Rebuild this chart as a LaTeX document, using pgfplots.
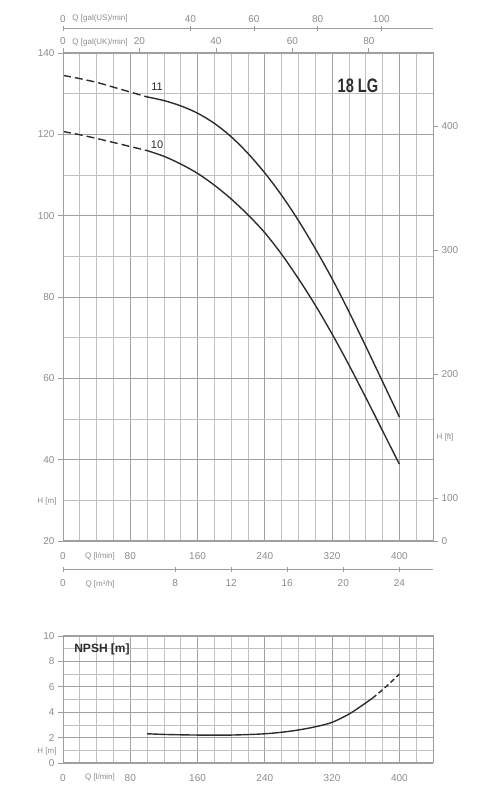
\documentclass[border=0pt]{standalone}
\usepackage{fontspec}
\setmainfont{Liberation Sans}
\usepackage{graphicx}
\usepackage{pgfplots}
\pgfplotsset{compat=1.18}
\definecolor{gridmin}{RGB}{192,192,192}
\definecolor{gridmaj}{RGB}{160,160,160}
\definecolor{axcol}{RGB}{158,158,158}
\definecolor{labcol}{RGB}{140,140,140}
\definecolor{curvecol}{RGB}{45,45,45}
\pgfplotsset{
  base/.style={scale only axis, clip=false,
    /pgf/number format/assume math mode=true,
    ticklabel style={font=\fontsize{10}{12}\selectfont, text=labcol},
    axis line style={draw=axcol, line width=1pt},
    tick style={draw=axcol, line width=0.8pt},
    major tick length=5pt, minor tick length=0pt, tick align=outside},
}
\tikzset{qlab/.style={font=\fontsize{8}{9}\selectfont, text=labcol, inner sep=0pt}}
\begin{document}
\begin{tikzpicture}
\useasboundingbox (0pt,0pt) rectangle (500pt,800pt);
% ---------- main H-Q chart ----------
\begin{axis}[base, width=370pt, height=488pt, at={(63pt,259pt)}, anchor=south west,
  xmin=0, xmax=440, ymin=20, ymax=140,
  xtick={0,80,...,400},
  minor xtick={20,40,60,100,120,140,180,200,220,260,280,300,340,360,380,420},
  ytick={20,40,...,140}, minor ytick={30,50,...,130},
  grid=both,
  major grid style={draw=gridmaj, line width=0.9pt},
  minor grid style={draw=gridmin, line width=0.7pt},
  xtick style={draw=none}, ytick pos=left, xtick pos=bottom,
  xticklabel style={yshift=-3pt}]
\addplot[curvecol, line width=1.4pt, dash pattern=on 8pt off 4pt] coordinates
 {(0,134.5)(20,133.7)(40,132.8)(60,131.6)(80,130.4)(100,129.2)};
\addplot[curvecol, line width=1.4pt, smooth] coordinates
 {(100,129.2)(120,128.3)(140,127.0)(160,125.2)(180,122.7)(200,119.4)(220,115.3)
  (240,110.5)(260,105.0)(280,98.8)(300,91.9)(320,84.5)(340,76.4)(360,67.9)(380,59.2)(400,50.5)};
\addplot[curvecol, line width=1.4pt, dash pattern=on 8pt off 4pt] coordinates
 {(0,120.7)(20,119.9)(40,119.0)(60,118.0)(80,117.0)(100,116.0)};
\addplot[curvecol, line width=1.4pt, smooth] coordinates
 {(100,116.0)(120,114.6)(140,112.7)(160,110.4)(180,107.5)(200,104.1)(220,100.2)
  (240,95.8)(260,90.5)(280,84.5)(300,78.0)(320,70.9)(340,63.3)(360,55.3)(380,47.1)(400,38.9)};
\end{axis}
% right H [ft] axis
\begin{axis}[base, width=370pt, height=488pt, at={(63pt,259pt)}, anchor=south west,
  xmin=0, xmax=440, ymin=20, ymax=140, hide x axis,
  ytick={20,30.48,60.96,91.44,121.92}, yticklabels={0,100,200,300,400},
  ytick pos=right, yticklabel pos=right]
\end{axis}
% top gal(UK)/min axis
\begin{axis}[base, width=370pt, height=488pt, at={(63pt,259pt)}, anchor=south west,
  xmin=0, xmax=96.787, ymin=20, ymax=140, hide y axis,
  xtick={0,20,40,60,80}, xtick pos=upper, xticklabel pos=upper]
\end{axis}
% top gal(US)/min axis
\begin{axis}[base, width=370pt, height=10pt, at={(63pt,771pt)}, anchor=north west,
  xmin=0, xmax=116.236, ymin=0, ymax=1, hide y axis,
  axis x line=top, x axis line style={-},
  xtick={0,40,60,80,100}, xtick pos=upper, xticklabel pos=upper]
\end{axis}
% bottom m3/h axis
\begin{axis}[base, width=370pt, height=10pt, at={(63pt,230pt)}, anchor=south west,
  xmin=0, xmax=26.4, ymin=0, ymax=1, hide y axis,
  axis x line=bottom, x axis line style={-},
  xtick={0,8,12,16,20,24}, xtick pos=lower, xticklabel pos=lower,
  xticklabel style={yshift=-3pt}]
\end{axis}
% ---------- NPSH chart ----------
\begin{axis}[base, width=370pt, height=127pt, at={(63pt,37pt)}, anchor=south west,
  xmin=0, xmax=440, ymin=0, ymax=10,
  xtick={0,80,...,400},
  minor xtick={20,40,60,100,120,140,180,200,220,260,280,300,340,360,380,420},
  ytick={0,2,...,10}, minor ytick={1,3,...,9},
  grid=both,
  major grid style={draw=gridmaj, line width=0.9pt},
  minor grid style={draw=gridmin, line width=0.7pt},
  xtick style={draw=none}, ytick pos=left, xtick pos=bottom,
  xticklabel style={yshift=-3pt}]
\addplot[curvecol, line width=1.4pt, smooth] coordinates
 {(100,2.3)(120,2.25)(140,2.22)(160,2.2)(180,2.19)(200,2.2)(220,2.24)(240,2.3)
  (260,2.42)(280,2.6)(300,2.85)(320,3.2)(340,3.85)(355,4.5)(368,5.1)};
\addplot[curvecol, line width=1.4pt, dash pattern=on 5pt off 3pt, smooth] coordinates
 {(368,5.1)(384,6.0)(400,7.0)};
\end{axis}
% ---------- texts ----------
\node[qlab] at (100pt,782pt) {Q [gal(US)/min]};
\node[qlab] at (100pt,758pt) {Q [gal(UK)/min]};
\node[qlab] at (100pt,244pt) {Q [l/min]};
\node[qlab] at (100pt,216pt) {Q [m³/h]};
\node[qlab] at (47pt,299pt) {H [m]};
\node[qlab] at (445pt,363pt) {H [ft]};
\node[qlab] at (47pt,49pt) {H [m]};
\node[qlab] at (100pt,23pt) {Q [l/min]};
\node[text=curvecol, inner sep=0pt, font=\bfseries\fontsize{19.5}{22}\selectfont] at (358pt,714pt) {\scalebox{0.75}[1]{18 LG}};
\node[text=curvecol, inner sep=0pt, font=\fontsize{11}{13}\selectfont] at (157pt,713pt) {11};
\node[text=curvecol, inner sep=0pt, font=\fontsize{11}{13}\selectfont] at (157pt,655pt) {10};
\node[text=curvecol, inner sep=0pt, font=\bfseries\fontsize{12}{14}\selectfont] at (102pt,150.5pt) {NPSH [m]};
\end{tikzpicture}
\end{document}
